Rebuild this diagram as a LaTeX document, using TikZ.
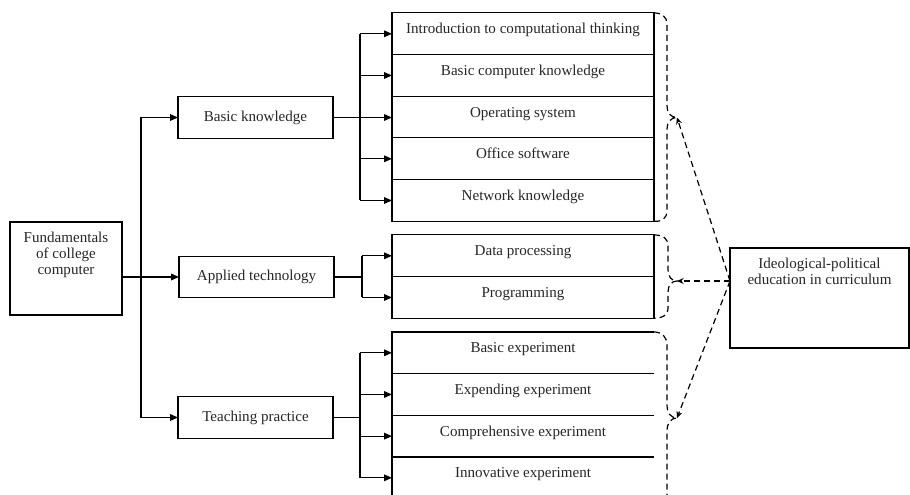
\documentclass[tikz,border=0pt]{standalone}
\usepackage{fontspec}
\setmainfont{Liberation Serif}
\usetikzlibrary{arrows.meta,positioning,calc}
\tikzset{
  box/.style={draw, line width=0.8pt, inner sep=0pt, outer sep=0pt},
  topicbox/.style={box, minimum width=116.25pt, minimum height=31pt},
  rowbox/.style={box, minimum width=196.5pt, minimum height=31.25pt, text height=7pt, text depth=7pt},
  rowopen/.style={rowbox, draw=none},
  conn/.style={line width=0.9pt},
  arr/.style={conn, -{Triangle[length=6pt,width=5pt]}},
  braceln/.style={line width=0.9pt, dash pattern=on 4.5pt off 3pt},
  darr/.style={braceln, -{Stealth[length=5pt,width=4.5pt]}},
}

\begin{document}
\begin{tikzpicture}[x=0.75pt, y=-0.75pt, font=\fontsize{11.3}{12}\selectfont, text=black!85]
  \useasboundingbox (0,0) rectangle (910,495);
  % course and its three parts
  \node[box, minimum width=84pt, minimum height=69.75pt, align=center] (fund) at (66,268.5)
    {Fundamentals\\of college\\computer\\[11pt]};
  \node[topicbox] (basic) at (255.5,117.5) {Basic knowledge};
  \node[topicbox] (applied) at (256.5,277) {Applied technology};
  \node[topicbox] (teach) at (255.5,417.5) {Teaching practice};
  \coordinate (trunk) at (141,277);
  \draw[arr] (fund.east |- applied.west) -- (applied.west);
  \draw[arr] (trunk) |- (basic.west);
  \draw[arr] (trunk) |- (teach.west);
  % basic knowledge
  \node[rowbox] (k1) at (523,33.8) {Introduction to computational thinking};
  \node[rowbox, below=0pt of k1] (k2) {Basic computer knowledge};
  \node[rowbox, below=0pt of k2] (k3) {Operating system};
  \node[rowbox, below=0pt of k3] (k4) {Office software};
  \node[rowbox, below=0pt of k4] (k5) {Network knowledge};
  \coordinate (kfork) at (360,117.5);
  \draw[conn] (kfork |- k1.west) -- (kfork |- k5.west);
  \draw[arr] (basic.east) -- (basic.east -| k3.west);
  \foreach \r in {k1,k2,k4,k5}
    \draw[arr] (kfork |- \r.west) -- (\r.west);
  % applied technology
  \node[rowbox] (d1) at (523,255.8) {Data processing};
  \node[rowbox, below=0pt of d1] (d2) {Programming};
  \coordinate (dfork) at (362,277);
  \draw[conn] (applied.east) -- (dfork);
  \draw[conn] (dfork |- d1.west) -- (dfork |- d2.west);
  \foreach \r in {d1,d2}
    \draw[arr] (dfork |- \r.west) -- (\r.west);
  % teaching practice (box open on the right)
  \node[rowopen] (e1) at (523,352.8) {Basic experiment};
  \node[rowopen, below=0pt of e1] (e2) {Expending experiment};
  \node[rowopen, below=0pt of e2] (e3) {Comprehensive experiment};
  \node[rowopen, below=0pt of e3] (e4) {Innovative experiment};
  \draw[line width=0.8pt] (e1.north east) -- (e1.north west) -- (e4.south west);
  \foreach \r in {e1,e2,e3}
    \draw[line width=0.8pt] (\r.south west) -- (\r.south east);
  \coordinate (efork) at (360,417.5);
  \draw[conn] (teach.east) -- (efork);
  \draw[conn] (efork |- e1.west) -- (efork |- e4.west);
  \foreach \r in {e1,e2,e3,e4}
    \draw[arr] (efork |- \r.west) -- (\r.west);
  % target
  \node[box, minimum width=134.25pt, minimum height=75pt, align=center] (ideo) at (819.5,298)
    {Ideological-political\\education in curriculum\\[28pt]};
  \coordinate (ideoin) at ([yshift=12.75pt]ideo.west);
  % dashed braces
  \coordinate (tipK) at (677,117.5);
  \coordinate (tipD) at (677,281);
  \coordinate (tipE) at (677,418);
  \draw[braceln] (k1.north east) .. controls (662,13) and (667,17) .. (667,24)
    -- (667,106) .. controls (667,113) and (671,117.5) .. (tipK)
    .. controls (671,117.5) and (667,122) .. (667,129)
    -- (667,211) .. controls (667,218) and (662,222) .. (k5.south east);
  \draw[braceln] (d1.north east) .. controls (664,235) and (668,239) .. (668,246)
    -- (668,270) .. controls (668,277) and (672,281) .. (tipD)
    .. controls (672,281) and (668,285) .. (668,292)
    -- (668,308) .. controls (668,315) and (663,318) .. (d2.south east);
  \draw[braceln] (e1.north east) .. controls (662,332) and (667,337) .. (667,345)
    -- (667,405) .. controls (667,413) and (671,418) .. (tipE)
    .. controls (671,418) and (667,423) .. (667,431) -- (667,500);
  \draw[darr] (ideoin) -- (tipK);
  \draw[darr] (ideoin) -- (tipD);
  \draw[darr] (ideoin) -- (tipE);
\end{tikzpicture}
\end{document}
